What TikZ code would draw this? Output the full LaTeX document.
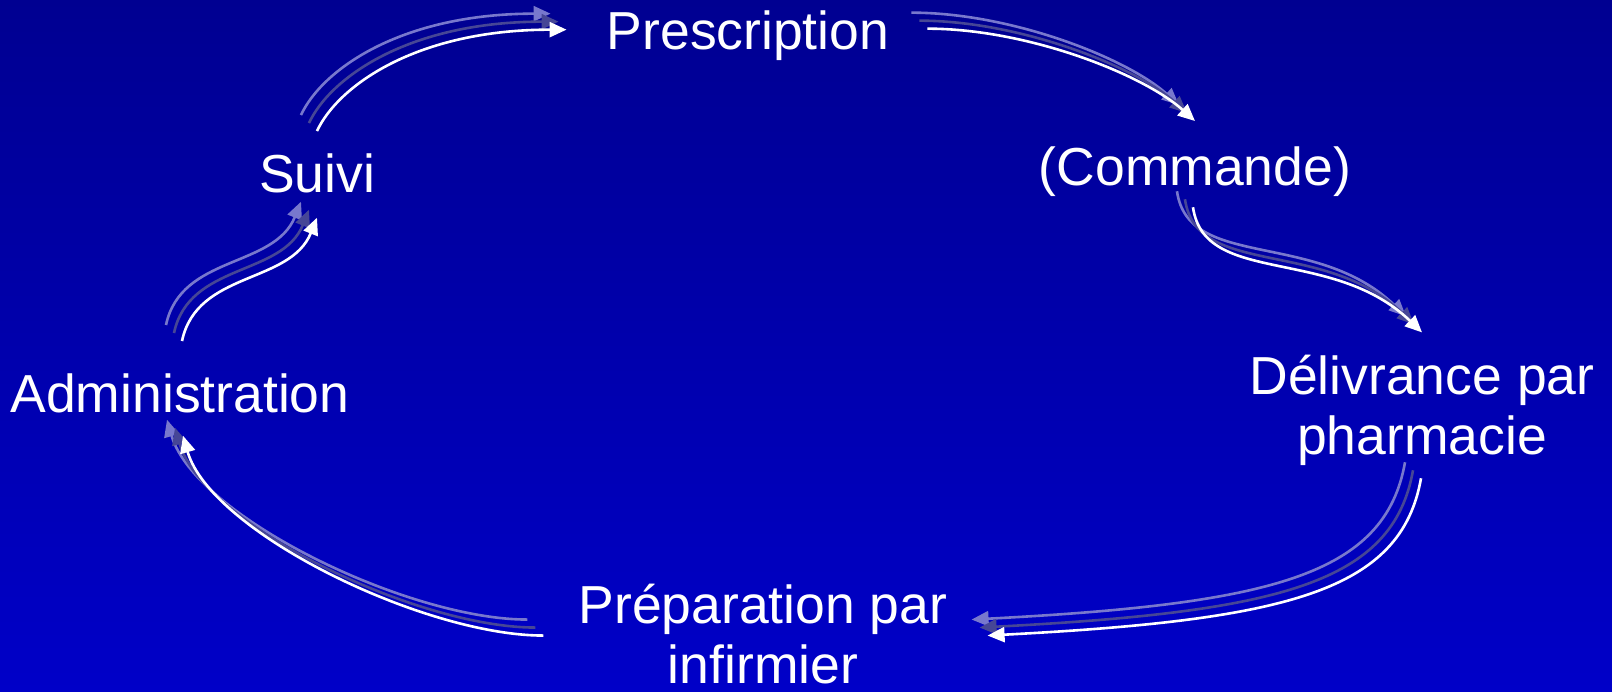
\documentclass[tikz,border=0pt]{standalone}
\usepackage{fontspec}
\setmainfont{Liberation Sans}
\usetikzlibrary{arrows.meta}
\usetikzlibrary{calc}

\definecolor{bgtop}{RGB}{0,0,145}
\definecolor{bgbottom}{RGB}{0,0,200}
\definecolor{ghostcol}{RGB}{120,120,205}
\definecolor{shadecol}{RGB}{70,70,150}

\tikzset{
  stage/.style={text=white, inner sep=0pt, anchor=base, align=center,
    font=\fontsize{53.5}{60}\selectfont},
  frontline/.style={draw=white, line width=2.6pt,
    -{Triangle[length=17pt,width=15pt]}},
  ghostline/.style={frontline, draw=ghostcol},
  shadeline/.style={frontline, draw=shadecol}
}

\newcommand{\cyclearrow}[1]{%
  \draw[ghostline, transform canvas={shift={(-16pt,16pt)}}] #1;
  \draw[shadeline, transform canvas={shift={(-8pt,8pt)}}] #1;
  \draw[frontline] #1;}

\begin{document}
\begin{tikzpicture}[x=1pt,y=1pt]
    \useasboundingbox (0,0) rectangle (1612,691);
    \fill[top color=bgtop, bottom color=bgbottom] (0,0) rectangle (1612,691);

    \node[stage] (pres) at (748,641.5) {Prescription};
    \node[stage] (cmd) at (1195,505) {(Commande)};
    \node[stage] (deliv) at (1422,236) {Délivrance par\\pharmacie};
    \node[stage] (prep) at (763,8) {Préparation par\\infirmier};
    \node[stage] (admin) at (180,278) {Administration};
    \node[stage] (suivi) at (317,498) {Suivi};

    \cyclearrow{($(suivi.north)+(0,23)$) to[out=65,in=180,out distance=50pt,in distance=150pt] ($(pres.west)+(-40,6)$)}
    \cyclearrow{($(pres.east)+(38,7)$) to[out=0,in=138,out distance=100pt,in distance=70pt] ($(cmd.north)+(0,26)$)}
    \cyclearrow{($(cmd.south)+(-2,-10)$) to[out=-82,in=136,out distance=80pt,in distance=125pt] ($(deliv.north)+(0,23)$)}
    \cyclearrow{($(deliv.south)+(-1,-12)$) to[out=-100,in=3,out distance=115pt,in distance=300pt] ($(prep.east)+(40,-2)$)}
    \cyclearrow{($(prep.west)+(-35,-2)$) to[out=180,in=-74,out distance=120pt,in distance=100pt] ($(admin.south)+(3,-22)$)}
    \cyclearrow{($(admin.north)+(2,33)$) to[out=78,in=-112,out distance=72pt,in distance=72pt] ($(suivi.south)+(0,-24)$)}
\end{tikzpicture}
\end{document}
